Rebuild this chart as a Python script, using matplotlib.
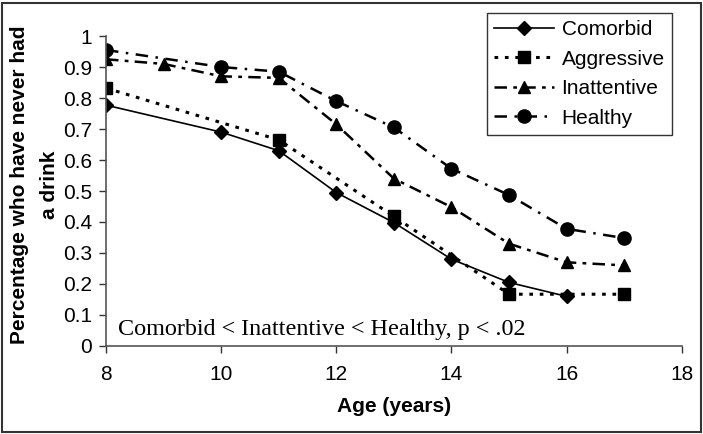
import matplotlib
matplotlib.use("Agg")
import matplotlib.pyplot as plt
from matplotlib.patches import Rectangle

# values
comorbid_age = [8, 10, 11, 12, 13, 14, 15, 16]
comorbid = [0.777, 0.69, 0.63, 0.495, 0.398, 0.28, 0.205, 0.16]

aggressive_age = [8, 11, 13, 15, 17]
aggressive = [0.832, 0.665, 0.418, 0.167, 0.167]

inattentive_age = [8, 9, 10, 11, 12, 13, 14, 15, 16, 17]
inattentive = [0.925, 0.91, 0.87, 0.865, 0.715, 0.54, 0.448, 0.33, 0.27, 0.26]

healthy_age = [8, 10, 11, 12, 13, 14, 15, 16, 17]
healthy = [0.955, 0.90, 0.885, 0.79, 0.705, 0.572, 0.487, 0.378, 0.348]

x_ticks = [8, 10, 12, 14, 16, 18]
y_ticks = [0, 0.1, 0.2, 0.3, 0.4, 0.5, 0.6, 0.7, 0.8, 0.9, 1]
y_labels = ["0", "0.1", "0.2", "0.3", "0.4", "0.5", "0.6", "0.7", "0.8", "0.9", "1"]

plt.rcParams['font.family'] = ['Liberation Sans', 'DejaVu Sans']

fig = plt.figure(figsize=(7.03, 4.34), dpi=100)
ax = fig.add_axes([0.1508, 0.2028, 0.819, 0.7142])

ax.plot(comorbid_age, comorbid, color='black', lw=1.2, ls='-',
        marker='D', ms=7, label='Comorbid')
ax.plot(aggressive_age, aggressive, color='black', lw=2.2, dashes=(1.2, 2.2),
        marker='s', ms=8.5, label='Aggressive')
ax.plot(inattentive_age, inattentive, color='black', lw=1.8, dashes=(5, 2.5, 1.5, 2.5),
        marker='^', ms=8.5, label='Inattentive')
ax.plot(healthy_age, healthy, color='black', lw=1.8, dashes=(5, 3, 1, 3),
        marker='o', ms=9.5, label='Healthy')

ax.set_xlim(8, 18)
ax.set_ylim(0, 1)
ax.set_xticks(x_ticks)
ax.set_yticks(y_ticks)
ax.set_yticklabels(y_labels)
ax.tick_params(axis='both', labelsize=15, length=5, width=1, direction='out',
               colors='#333333', labelcolor='black')
ax.tick_params(axis='x', pad=9)
ax.tick_params(axis='y', pad=5)

for side in ['top', 'right']:
    ax.spines[side].set_visible(False)
for side in ['left', 'bottom']:
    ax.spines[side].set_color('#555555')
    ax.spines[side].set_linewidth(1.2)

ax.set_xlabel('Age (years)', fontsize=15, fontweight='bold', labelpad=9)
ax.set_ylabel('Percentage who have never had\na drink', fontsize=15,
              fontweight='bold', linespacing=1.75)
ax.yaxis.set_label_coords(-0.082, 0.52)

ax.text(0.021, 0.035, 'Comorbid < Inattentive < Healthy, p < .02',
        transform=ax.transAxes, fontsize=17.4, family='Liberation Serif',
        ha='left', va='baseline')

leg = ax.legend(loc='upper right', bbox_to_anchor=(672 / 703, 1 - 13 / 434),
                bbox_transform=fig.transFigure, borderaxespad=0, fontsize=15,
                frameon=True, fancybox=False, handlelength=2.9, borderpad=0.35,
                labelspacing=0.5, handletextpad=0.35)
leg.get_frame().set_edgecolor('black')
leg.get_frame().set_linewidth(1)

fig.patches.append(Rectangle((0.003, 0.004), 0.994, 0.99, transform=fig.transFigure,
                             fill=False, edgecolor='#333333', lw=1.5))

fig.savefig('out.png', dpi=100)
